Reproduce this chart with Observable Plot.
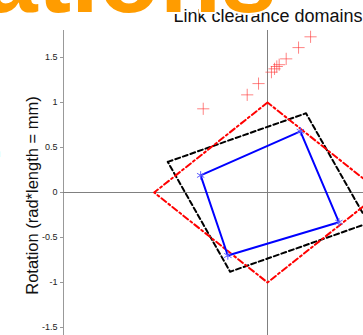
<!DOCTYPE html>
<html><head><meta charset="utf-8">
<script src="https://cdn.jsdelivr.net/npm/d3@7"></script>
<script src="https://cdn.jsdelivr.net/npm/@observablehq/plot@0.6"></script>
<style>html,body{margin:0;padding:0;overflow:hidden;background:#fff}</style>
</head><body><div id="chart"></div>
<script>
const yTicks = [-1.5, -1, -0.5, 0, 0.5, 1, 1.5];
const diamondX = [0, -1, 0, 1, 0];
const diamondY = [1, 0, -1, 0, 1];
const dashedX = [-0.88, 0.34, 0.89, -0.33, -0.88];
const dashedY = [0.34, 0.88, -0.34, -0.88, 0.34];
const blueX = [-0.59, 0.29, 0.63, -0.35, -0.59];
const blueY = [0.19, 0.68, -0.33, -0.70, 0.19];
const plusX = [-0.567, -0.179, -0.079, 0.035, 0.062, 0.082, 0.103, 0.165, 0.274, 0.38];
const plusY = [0.93, 1.085, 1.21, 1.337, 1.374, 1.40, 1.42, 1.485, 1.61, 1.73];
const title = "Link clearance domains";
const yLabel = "Rotation (rad*length = mm)";
const slideTitle = "Simulations";
const sideText = "n";

const pts = (xs, ys) => xs.map((x, i) => ({x, y: ys[i]}));
const diamond = pts(diamondX, diamondY);
const dashed = pts(dashedX, dashedY);
const blue = pts(blueX, blueY);
const plus = pts(plusX, plusY);

const chart = Plot.plot({
  width: 363, height: 335,
  marginLeft: 63, marginTop: 30, marginRight: 0, marginBottom: 0,
  x: {domain: [-1.8, 1.8], range: [63, 471], axis: null},
  y: {domain: [-1.8, 1.8], range: [354, 30], axis: null},
  style: {fontFamily: "'Liberation Sans', Arial, sans-serif", background: "white", overflow: "hidden"},
  marks: [
    Plot.frame({anchor: "left", stroke: "#999"}),
    Plot.ruleX([0], {stroke: "#808080"}),
    Plot.ruleY([0], {stroke: "#808080"}),
    Plot.axisY(yTicks, {anchor: "left", tickSize: 3, tickPadding: 3, tickFormat: d => String(d), fontSize: 9, stroke: "#999", fill: "#222", label: null}),
    Plot.text([yLabel], {frameAnchor: "left", textAnchor: "middle", rotate: -90, dx: -31, dy: 12.5, fontSize: 16.5, fill: "#111"}),
    Plot.line(dashed, {x: "x", y: "y", stroke: "black", strokeWidth: 2, strokeDasharray: "5,3"}),
    Plot.line(diamond, {x: "x", y: "y", stroke: "red", strokeWidth: 2, strokeDasharray: "6,3,2,3"}),
    Plot.line(blue, {x: "x", y: "y", stroke: "blue", strokeWidth: 2}),
    Plot.dot(blue.slice(0, 4), {x: "x", y: "y", symbol: "asterisk", r: 4, stroke: "#6060ff", strokeWidth: 1}),
    Plot.dot(plus, {x: "x", y: "y", symbol: "plus", r: 4, stroke: "#ff3030", strokeOpacity: 0.6, strokeWidth: 1}),
    Plot.text([title], {frameAnchor: "top-right", textAnchor: "end", lineAnchor: "middle", dx: -1, dy: -14.7, fontSize: 18, fill: "#111"}),
    Plot.text([slideTitle], {frameAnchor: "top-left", textAnchor: "end", lineAnchor: "middle", dx: 213, dy: -50.5, fontSize: 100, fontWeight: "bold", fill: "#ff9c00", stroke: "white", strokeWidth: 4, paintOrder: "stroke"}),
    Plot.text([sideText], {frameAnchor: "top-left", textAnchor: "end", lineAnchor: "middle", dx: -63, dy: 122.5, fontSize: 13, fill: "#2060c0"})
  ]
});
document.getElementById("chart").append(chart);
</script>
</body></html>
